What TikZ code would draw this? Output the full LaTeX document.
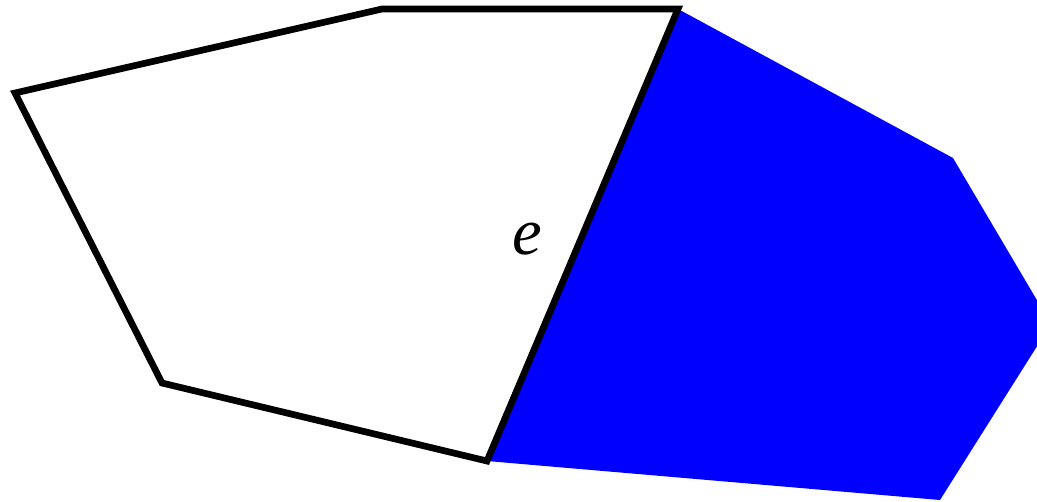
\documentclass[tikz,border=0pt]{standalone}
\usepackage{fontspec}
\setmainfont{Liberation Serif}
\usepackage{xcolor}
\definecolor{faceblue}{RGB}{0,0,255}

\begin{document}
\begin{tikzpicture}[x=0.02cm, y=-0.02cm]
        \useasboundingbox (0,0) rectangle (1037,501);
        \clip (0,0) rectangle (1037,501);
        \fill[faceblue] (678,9) -- (953,158) -- (1051,324) -- (940,500) -- (487,461) -- cycle;
        \draw[line width=3.8pt, line join=miter] (15,93) -- (382,9) -- (678,9) -- (487,461) -- (162,383) -- cycle;
        \node[font=\fontsize{38}{42}\selectfont\itshape] (edgelabel) at (527,239) {e};
    \end{tikzpicture}
\end{document}
